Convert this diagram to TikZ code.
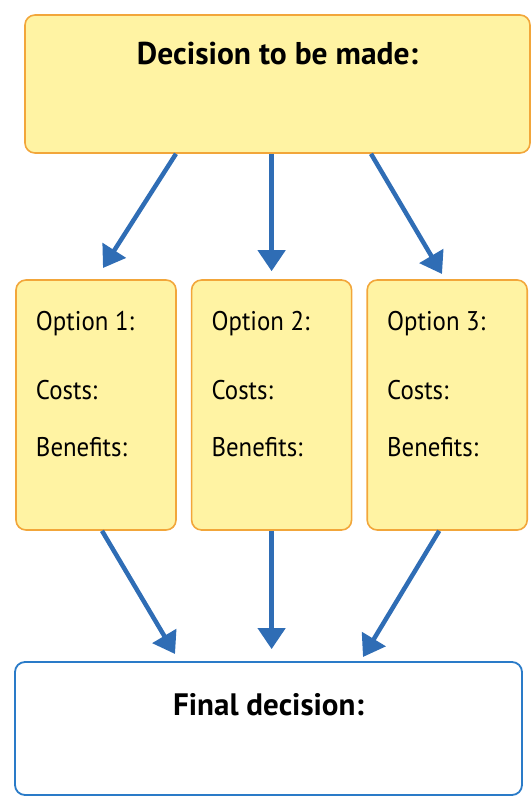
\documentclass[tikz,border=0pt]{standalone}
\usepackage{fontspec}
\setmainfont{PT Sans}
\newfontfamily\cardfont{PT Sans}[FakeStretch=0.92]
\usetikzlibrary{arrows.meta,positioning}

\definecolor{notefill}{HTML}{FFF3A3}
\definecolor{noteline}{HTML}{F2A63A}
\definecolor{flowblue}{HTML}{2F6DB5}
\definecolor{finalline}{HTML}{2A7BC8}

% text block of one option card, pinned to the top of the card
\newcommand{\optioncard}[1]{\parbox[c][250pt][t]{160pt}{\leftskip=20pt
  \vspace*{31pt}Option #1:\\[38pt]Costs:\\[26pt]Benefits:}}

\begin{document}
\begin{tikzpicture}[
    x=1pt, y=-1pt,
    every node/.style={font=\cardfont\fontsize{27}{31}\selectfont},
    headbox/.style={draw=noteline, fill=notefill, line width=1.6pt, rounded corners=10pt,
      minimum width=505pt, minimum height=138pt, font=\rmfamily\fontsize{31.5}{36}\selectfont\bfseries,
      text height=22pt, text depth=62pt},
    option/.style={draw=noteline, fill=notefill, line width=1.6pt, rounded corners=10pt,
      inner sep=0pt, align=left},
    finalbox/.style={draw=finalline, fill=white, line width=1.8pt, rounded corners=10pt,
      minimum width=507pt, minimum height=133pt, font=\rmfamily\fontsize{31}{35}\selectfont\bfseries,
      text height=22pt, text depth=49pt},
    flow/.style={-{Triangle[width=27pt,length=21pt]}, line width=4.5pt, draw=flowblue}
]
\useasboundingbox (0,0) rectangle (531,798);

\node[headbox] (decision) at (277.5,84) {Decision to be made:};
\node[option] (opt1) at (96,405) {\optioncard{1}};
\node[option, right=14pt of opt1] (opt2) {\optioncard{2}};
\node[option, right=14pt of opt2] (opt3) {\optioncard{3}};
\node[finalbox] (final) at (268.5,728.5) {Final decision:};

% arrow tips that stop short of the boxes
\coordinate (to1) at (103,268);
\coordinate (to3) at (442,274);
\coordinate (in1) at (175,654);
\coordinate (in3) at (363,657);

\draw[flow] ([xshift=-101.5pt]decision.south) -- (to1);
\draw[flow, shorten >=8pt] (decision.south -| opt2.north) -- (opt2.north);
\draw[flow] ([xshift=93.5pt]decision.south) -- (to3);
\draw[flow] ([xshift=6pt]opt1.south) -- (in1);
\draw[flow, shorten >=12pt] (opt2.south) -- (opt2.south |- final.north);
\draw[flow] ([xshift=-8pt]opt3.south) -- (in3);
\end{tikzpicture}
\end{document}
